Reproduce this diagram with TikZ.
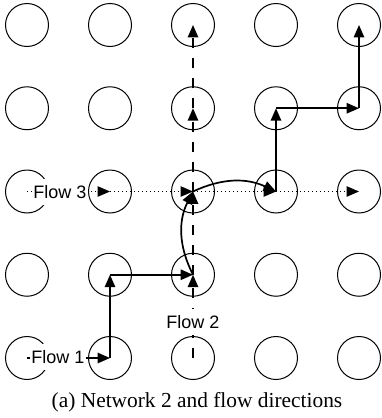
\documentclass[tikz,border=0pt]{standalone}
\usepackage{fontspec}
\setmainfont{Liberation Serif}
\newfontfamily\arialf{Liberation Sans}
\usetikzlibrary{arrows.meta}
\begin{document}
\begin{tikzpicture}[x=0.5pt,y=-0.5pt,
 circ/.style={circle,draw,line width=0.5pt,minimum size=21.5pt,inner sep=0pt},
 fa/.style={line width=0.85pt,-{Triangle[length=6.2pt,width=5.2pt]}},
 fone/.style={fa},
 ftwo/.style={fa,dash pattern=on 5pt off 5pt},
 fthree/.style={fa,line width=0.5pt,dash pattern=on 0.5pt off 1.5pt},
 lab/.style={fill=white,font=\arialf\fontsize{9}{10}\selectfont,inner xsep=0.5pt,inner ysep=3pt}]
\useasboundingbox (0,0) rectangle (381,418);
\foreach \i in {0,...,4}{
  \foreach \j in {0,...,4}{
    \node[circ] (n\i\j) at ({27+83*\i},{25+83.25*\j}) {};
  }
}
% Flow 3 (dotted)
\draw[fthree] (n02.center) -- (n12.center);
\draw[fthree] (n12.center) -- (n22.center);
\draw[fthree] (n22.center) -- (n32.center);
\draw[fthree] (n32.center) -- (n42.center);
% Flow 2 (dashed)
\draw[ftwo] (n24.center) -- (n23.center);
\draw[ftwo] (n23.center) -- (n22.center);
\draw[ftwo] (n22.center) -- (n21.center);
\draw[ftwo] (n21.center) -- (n20.center);
% Flow 1 (solid)
\draw[fone] (n04.center) -- (n14.center);
\draw[fone] (n14.center) -- (n13.center);
\draw[fone] (n13.center) -- (n23.center);
\draw[fone] (n23.center) to[bend left=27] (n22.center);
\draw[fone] (n22.center) to[bend left=25] (n32.center);
\draw[fone] (n32.center) -- (n31.center);
\draw[fone] (n31.center) -- (n41.center);
\draw[fone] (n41.center) -- (n40.center);
% labels
\node[lab] (l3) at (60,192) {Flow 3};
\node[lab] (l1) at (58,357) {Flow 1};
\node[lab] (l2) at (193,322) {Flow 2};
\node (cap) at (197,402) {\fontsize{10.7}{13}\selectfont (a) Network 2 and flow directions};
\end{tikzpicture}
\end{document}
